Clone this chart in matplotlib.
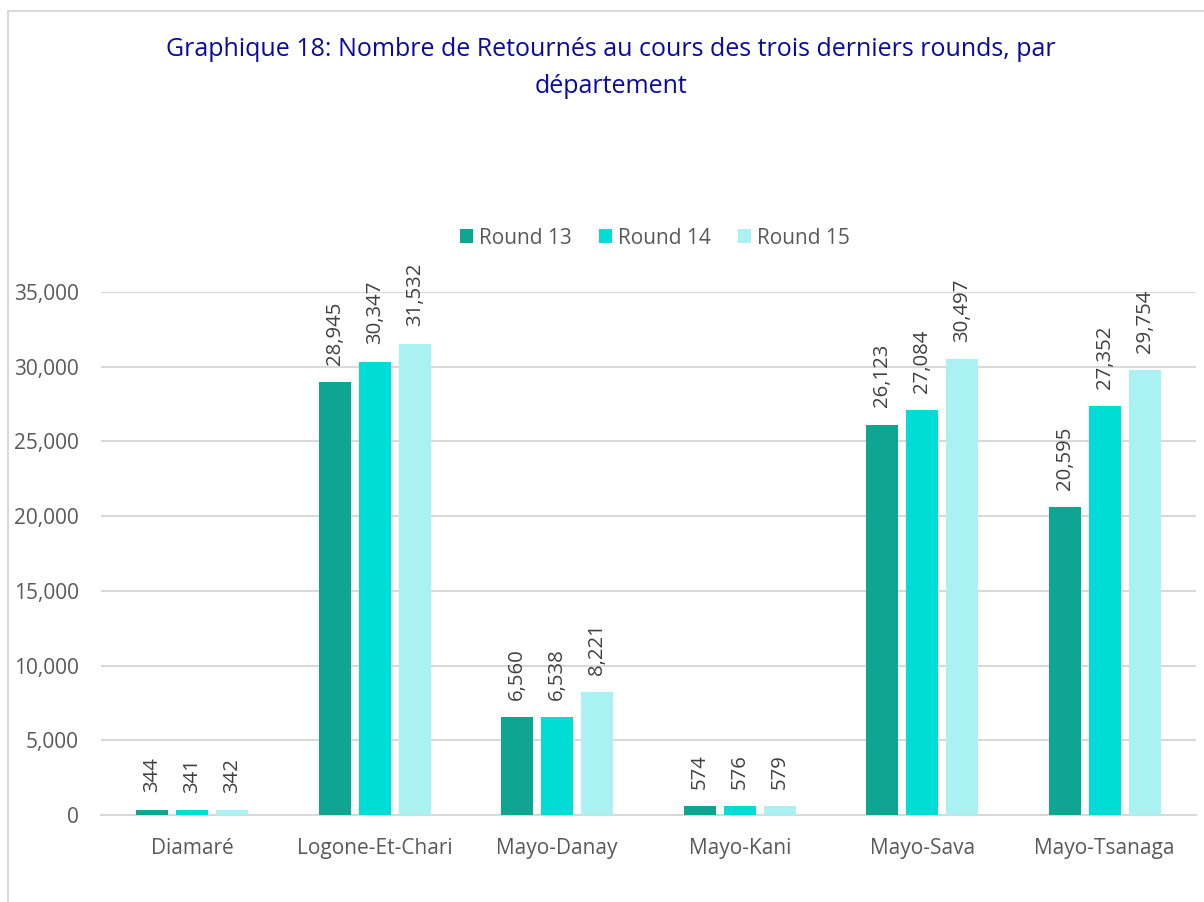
import matplotlib.pyplot as plt
import numpy as np
from matplotlib.patches import Rectangle
from matplotlib.ticker import FuncFormatter

departements = ['Diamaré', 'Logone-Et-Chari', 'Mayo-Danay', 'Mayo-Kani', 'Mayo-Sava', 'Mayo-Tsanaga']
rounds = ['Round 13', 'Round 14', 'Round 15']
round13 = [344, 28945, 6560, 574, 26123, 20595]
round14 = [341, 30347, 6538, 576, 27084, 27352]
round15 = [342, 31532, 8221, 579, 30497, 29754]
colors = ['#0ea593', '#00dcd6', '#aaf1f4']

plt.rcParams['font.family'] = ['Open Sans', 'DejaVu Sans']

fig = plt.figure(figsize=(12.04, 9.02), dpi=100)
ax = fig.add_axes([101 / 1204, 1 - 815 / 902, 1095 / 1204, 523 / 902])

# chart frame
fig.patches.append(Rectangle((8 / 1204, -0.05), 1.1, 1 - 11 / 902 + 0.05,
                             transform=fig.transFigure, fill=False,
                             edgecolor='#d9d9d9', linewidth=1.5))

x = np.arange(len(departements))
width = 0.175
step = 0.22
for i, (vals, lab) in enumerate(zip([round13, round14, round15], rounds)):
    bars = ax.bar(x + (i - 1) * step, vals, width, color=colors[i], label=lab, zorder=3)
    ax.bar_label(bars, labels=[f'{v:,}' for v in vals], rotation=90, padding=12.5,
                 fontsize=14.7, color='#404040')

ax.set_xlim(-0.5, len(departements) - 0.5)
ax.set_ylim(0, 35000)
ax.set_yticks(range(0, 35001, 5000))
ax.yaxis.set_major_formatter(FuncFormatter(lambda v, p: f'{int(v):,}'))
ax.set_xticks(x)
ax.set_xticklabels(departements)
ax.tick_params(axis='both', length=0, labelsize=15, labelcolor='#595959')
ax.tick_params(axis='x', pad=16.5)
ax.tick_params(axis='y', pad=16)
ax.grid(axis='y', color='#d9d9d9', linewidth=1.5, zorder=0)
for s in ['top', 'right', 'left']:
    ax.spines[s].set_visible(False)
ax.spines['bottom'].set_color('#d9d9d9')
ax.spines['bottom'].set_linewidth(1.5)

fig.text(611 / 1204, 1 - 68 / 902,
         'Graphique 18: Nombre de Retournés au cours des trois derniers rounds, par\ndépartement',
         ha='center', va='center', fontsize=18, color='#0a0a9c', linespacing=1.6)

fig.legend(loc='center', bbox_to_anchor=(655 / 1204, 1 - 238 / 902), ncol=3,
           frameon=False, fontsize=15, labelcolor='#595959', handlelength=0.62,
           handleheight=0.62, handletextpad=0.3, columnspacing=1.3)

fig.savefig('out.png', dpi=100, facecolor='white')
